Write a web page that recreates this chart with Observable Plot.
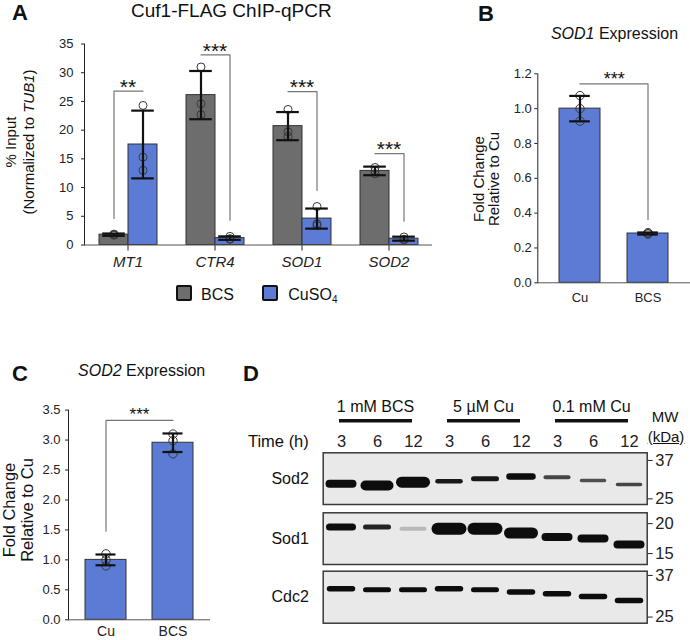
<!DOCTYPE html>
<html><head><meta charset="utf-8">
<script src="https://cdn.jsdelivr.net/npm/d3@7"></script>
<script src="https://cdn.jsdelivr.net/npm/@observablehq/plot@0.6"></script>
<style>
html,body{margin:0;padding:0;background:#fff;}
#fig{position:relative;width:690px;height:640px;overflow:hidden;background:#fff;font-family:"Liberation Sans",Arial,Helvetica,sans-serif;color:#111;}
#fig svg{position:absolute;}
.abs{position:absolute;line-height:1;white-space:nowrap;}
.panel{font-weight:bold;font-size:22px;}
.rot{position:absolute;transform:translate(-50%,-50%) rotate(-90deg);text-align:center;white-space:nowrap;}
.sw{position:absolute;width:12px;height:12px;border:2px solid #111;border-radius:2px;}
</style></head>
<body><div id="fig"></div>
<script>
// ================= DATA =================
// Panel A – Cuf1-FLAG ChIP-qPCR (% input normalized to TUB1)
const genes = ["MT1", "CTR4", "SOD1", "SOD2"];
const conditions = ["BCS", "CuSO4"];
const chipBCSMean = [1.8, 26.1, 20.7, 12.9];
const chipBCSSD = [0.2, 4.2, 2.45, 0.75];
const chipCuMean = [17.5, 1.2, 4.6, 1.1];
const chipCuSD = [5.9, 0.3, 1.75, 0.35];
const chipBCSReps = [[1.9, 1.7, 1.8], [31.0, 24.6, 22.7], [23.6, 19.7, 18.9], [13.5, 12.9, 12.4]];
const chipCuReps = [[24.3, 15.3, 13.0], [1.5, 1.0, 1.1], [6.7, 3.7, 3.4], [1.4, 1.0, 0.9]];
const chipSig = ["**", "***", "***", "***"];
const chipBracketTop = [26.8, 33.1, 26.7, 15.9];
const chipBracketLeg = [4.6, 4.3, 9.5, 4.15];
const chipBracketLegSide = ["BCS", "CuSO4", "CuSO4", "CuSO4"];
const chipYTicks = [0, 5, 10, 15, 20, 25, 30, 35];

// Panels B & C – expression (fold change relative to Cu)
const exprConds = ["Cu", "BCS"];
const sod1Mean = [1.0, 0.283];
const sod1SD = [0.073, 0.006];
const sod1Reps = [[1.075, 1.0, 0.928], [0.288, 0.280, 0.282]];
const sod1BracketTop = 1.142, sod1BracketLeg = 0.363, sod1Sig = "***";
const sod1YTicks = [0, 0.2, 0.4, 0.6, 0.8, 1.0, 1.2];

const sod2Mean = [1.0, 2.955];
const sod2SD = [0.09, 0.155];
const sod2Reps = [[1.1, 1.0, 0.9], [3.1, 2.99, 2.77]];
const sod2BracketTop = 3.327, sod2BracketLeg = 1.479, sod2Sig = "***";
const sod2YTicks = [0, 0.5, 1.0, 1.5, 2.0, 2.5, 3.0, 3.5];

// Panel D – immunoblot
const treatments = ["1 mM BCS", "5 µM Cu", "0.1 mM Cu"];
const hours = ["3", "6", "12"];
const lanes = treatments.flatMap(t => hours.map(h => t + " · " + h));
const sod2BandMW = [29.15, 28.65, 29.63, 29.94, 30.68, 31.41, 31.19, 30.15, 28.94];
const sod2BandSignal = [8, 10, 11, 4.5, 5, 6.5, 4, 3.5, 3.5];
const sod2BandIntensity = [1, 1, 1, 0.95, 0.95, 1, 0.75, 0.7, 0.75];
const sod1BandMW = [19.36, 19.36, 19.06, 19.06, 19.06, 18.28, 17.59, 17.32, 16.35];
const sod1BandSignal = [7, 5, 4, 12, 12, 11, 8, 8, 8];
const sod1BandIntensity = [1, 0.9, 0.22, 1, 1, 1, 1, 1, 1];
const cdc2BandMW = [32.65, 32.35, 32.35, 32.65, 32.35, 31.63, 31.15, 30.37, 29.25];
const cdc2BandSignal = [5.5, 5, 5, 5.5, 5, 5.5, 5.5, 5.5, 5.5];
const cdc2BandIntensity = [1, 1, 1, 1, 1, 1, 1, 1, 1];
const sod2Markers = [25, 37], sod1Markers = [15, 20], cdc2Markers = [25, 37];
const sod2Range = [23.6, 40], sod1Range = [13.5, 22.2], cdc2Range = [23.6, 38.5];

// ================= STYLE =================
const FONT = "'Liberation Sans', Arial, Helvetica, sans-serif";
const GRAY = "#6d6d6d", BLUE = "#5b7bd5";
const fig = document.getElementById("fig");
function put(node, left, top) { node.style.left = left + "px"; node.style.top = top + "px"; fig.appendChild(node); return node; }
function html(cls, inner, left, top, extra) {
  const d = document.createElement("div"); d.className = cls; d.innerHTML = inner;
  if (extra) Object.assign(d.style, extra);
  return put(d, left, top);
}
const baseStyle = (fs) => ({fontFamily: FONT, fontSize: fs, color: "#222", background: "transparent", overflow: "visible"});

// ================= PANEL A =================
const chipRows = genes.flatMap((g, i) => [
  {gene: g, cond: "BCS", mean: chipBCSMean[i], sd: chipBCSSD[i]},
  {gene: g, cond: "CuSO4", mean: chipCuMean[i], sd: chipCuSD[i]}
]);
const chipPts = genes.flatMap((g, i) => [
  ...chipBCSReps[i].map(v => ({gene: g, cond: "BCS", v})),
  ...chipCuReps[i].map(v => ({gene: g, cond: "CuSO4", v}))
]);
const chipBrackets = genes.flatMap((g, i) => {
  const top = chipBracketTop[i], leg = chipBracketLeg[i];
  return chipBracketLegSide[i] === "BCS"
    ? [{gene: g, cond: "BCS", y: leg}, {gene: g, cond: "BCS", y: top}, {gene: g, cond: "CuSO4", y: top}]
    : [{gene: g, cond: "BCS", y: top}, {gene: g, cond: "CuSO4", y: top}, {gene: g, cond: "CuSO4", y: leg}];
});
const chipSigRows = genes.map((g, i) => ({gene: g, text: chipSig[i], y: chipBracketTop[i]}));

const plotA = Plot.plot({
  width: 440, height: 275,
  marginLeft: 82, marginRight: 7, marginTop: 43.5, marginBottom: 30.5,
  style: baseStyle("13px"),
  fx: {domain: genes, padding: 0},
  x: {domain: conditions, paddingInner: 0, paddingOuter: 0.4875, axis: null},
  y: {domain: [0, 35], ticks: chipYTicks, tickSize: 3, tickPadding: 8, label: null, line: true},
  color: {domain: conditions, range: [GRAY, BLUE]},
  marks: [
    Plot.axisFx({anchor: "bottom", tickSize: 6, tickPadding: 5, fontSize: 15, fontStyle: "italic", label: null}),
    Plot.barY(chipRows, {fx: "gene", x: "cond", y: "mean", fill: "cond", stroke: "#333", strokeWidth: 1}),
    Plot.ruleY([0], {stroke: "#555"}),
    Plot.dot(chipPts, {fx: "gene", x: "cond", y: "v", r: 4, stroke: "#3a3a3a", strokeWidth: 1}),
    Plot.ruleX(chipRows, {fx: "gene", x: "cond", y1: d => d.mean - d.sd, y2: d => d.mean + d.sd, stroke: "#111", strokeWidth: 2.2}),
    Plot.tickY(chipRows, {fx: "gene", x: "cond", y: d => d.mean + d.sd, stroke: "#111", strokeWidth: 2.2, insetLeft: 3.2, insetRight: 3.2}),
    Plot.tickY(chipRows, {fx: "gene", x: "cond", y: d => d.mean - d.sd, stroke: "#111", strokeWidth: 2.2, insetLeft: 3.2, insetRight: 3.2}),
    Plot.line(chipBrackets, {fx: "gene", x: "cond", y: "y", z: "gene", stroke: "#777", strokeWidth: 1.2}),
    Plot.text(chipSigRows, {fx: "gene", y: "y", text: "text", lineAnchor: "bottom", dy: 2.7, fontSize: 21, fill: "#111"})
  ]
});
put(plotA, 0, 0);

// ================= PANELS B & C =================
function exprPlot({mean, sd, reps, top, leg, legSide, sig, sigSize, sigDy, yTicks, yMax, opts, xFont, xPad, capInset}) {
  const rows = exprConds.map((c, i) => ({cond: c, mean: mean[i], sd: sd[i]}));
  const pts = exprConds.flatMap((c, i) => reps[i].map(v => ({cond: c, v})));
  const br = legSide === "Cu"
    ? [{cond: "Cu", y: leg}, {cond: "Cu", y: top}, {cond: "BCS", y: top}]
    : [{cond: "Cu", y: top}, {cond: "BCS", y: top}, {cond: "BCS", y: leg}];
  return Plot.plot({
    ...opts,
    style: baseStyle("13px"),
    x: {domain: exprConds, paddingInner: opts.pi, paddingOuter: opts.po, axis: null},
    y: {domain: [0, yMax], ticks: yTicks, tickFormat: ".1f", tickSize: 3, tickPadding: opts.ypad, label: null, line: true},
    marks: [
      Plot.axisX({tickSize: 0, tickPadding: xPad, fontSize: xFont, label: null}),
      Plot.barY(rows, {x: "cond", y: "mean", fill: BLUE, stroke: "#333", strokeWidth: 1}),
      Plot.ruleY([0], {stroke: "#555"}),
      Plot.dot(pts, {x: "cond", y: "v", r: 4.2, stroke: "#3a3a3a", strokeWidth: 1}),
      Plot.ruleX(rows, {x: "cond", y1: d => d.mean - d.sd, y2: d => d.mean + d.sd, stroke: "#111", strokeWidth: 2.2}),
      Plot.tickY(rows, {x: "cond", y: d => d.mean + d.sd, stroke: "#111", strokeWidth: 2.2, insetLeft: capInset, insetRight: capInset}),
      Plot.tickY(rows, {x: "cond", y: d => d.mean - d.sd, stroke: "#111", strokeWidth: 2.2, insetLeft: capInset, insetRight: capInset}),
      Plot.line(br, {x: "cond", y: "y", stroke: "#777", strokeWidth: 1.2}),
      Plot.text([sig], {text: d => d, y: top, lineAnchor: "bottom", dy: sigDy, fontSize: sigSize, fill: "#111"})
    ]
  });
}

const plotB = exprPlot({
  mean: sod1Mean, sd: sod1SD, reps: sod1Reps, top: sod1BracketTop, leg: sod1BracketLeg, legSide: "BCS",
  sig: sod1Sig, sigSize: 18, sigDy: 1.1, yTicks: sod1YTicks, yMax: 1.2, xFont: 13, xPad: 9.5, capInset: 10.2,
  opts: {width: 250, height: 320, marginLeft: 97.3, marginRight: 0, marginTop: 73.3, marginBottom: 37.7, pi: 0.392, po: 0.316, ypad: 3}
});
put(plotB, 440, 0);

const plotC = exprPlot({
  mean: sod2Mean, sd: sod2SD, reps: sod2Reps, top: sod2BracketTop, leg: sod2BracketLeg, legSide: "Cu",
  sig: sod2Sig, sigSize: 17, sigDy: 0, yTicks: sod2YTicks, yMax: 3.5, xFont: 14, xPad: 6.5, capInset: 10.5,
  opts: {width: 240, height: 320, marginLeft: 68, marginRight: 30, marginTop: 89.6, marginBottom: 20.7, pi: 0.395, po: 0.25, ypad: 5}
});
put(plotC, 0, 320);

// ================= PANEL D =================
const header = Plot.plot({
  width: 450, height: 44, marginLeft: 82.7, marginRight: 43.3, marginTop: 39, marginBottom: 1.5,
  style: baseStyle("16px"),
  x: {domain: treatments, padding: 0, axis: null},
  marks: [
    Plot.cell(treatments, {x: d => d, fill: "#111", insetLeft: 16, insetRight: 19}),
    Plot.text(treatments, {x: d => d, text: d => d, frameAnchor: "top", lineAnchor: "bottom", dy: -7.5, dx: -2, fontSize: 16, fill: "#111"})
  ]
});
put(header, 240, 380);

function blot({name, mw, signal, intensity, markers, range, height, marginTop, marginBottom, withHeader}) {
  const bands = lanes.map((lane, i) => ({lane, mw: mw[i], w: signal[i], a: intensity[i]}));
  return Plot.plot({
    width: 450, height, marginLeft: 82.7, marginRight: 43.3, marginTop, marginBottom,
    style: baseStyle("16.5px"),
    x: {domain: lanes, padding: 0, axis: withHeader ? "top" : null, tickSize: 0, tickPadding: 6.3,
        tickFormat: d => d.split(" · ")[1], label: null},
    y: {type: "log", domain: range, ticks: markers, tickFormat: d => String(d), axis: "right",
        tickSize: 5, tickPadding: 3, label: null},
    marks: [
      Plot.frame({fill: "#e9e9e9", stroke: "#3a3a3a", strokeWidth: 1.5}),
      Plot.tickY(bands, {x: "lane", y: "mw", strokeWidth: "w", strokeOpacity: "a", stroke: "#0d0d0d",
        strokeLinecap: "round", insetLeft: 6.5, insetRight: 6.5}),
      Plot.text([name], {text: d => d, frameAnchor: "left", dx: -14.4, textAnchor: "end", fontSize: 16, fill: "#111"}),
      withHeader ? Plot.text(["Time (h)"], {text: d => d, frameAnchor: "top-left", dx: -14.4, dy: -6.3,
        textAnchor: "end", lineAnchor: "bottom", fontSize: 16.5, fill: "#111"}) : null
    ]
  });
}
put(blot({name: "Sod2", mw: sod2BandMW, signal: sod2BandSignal, intensity: sod2BandIntensity,
  markers: sod2Markers, range: sod2Range, height: 83, marginTop: 27.3, marginBottom: 4, withHeader: true}), 240, 425);
put(blot({name: "Sod1", mw: sod1BandMW, signal: sod1BandSignal, intensity: sod1BandIntensity,
  markers: sod1Markers, range: sod1Range, height: 60, marginTop: 4.3, marginBottom: 4}), 240, 508);
put(blot({name: "Cdc2", mw: cdc2BandMW, signal: cdc2BandSignal, intensity: cdc2BandIntensity,
  markers: cdc2Markers, range: cdc2Range, height: 62, marginTop: 4.7, marginBottom: 5.3}), 240, 566);

// ================= TEXT (titles, labels, legend) =================
html("abs panel", "A", 12, 2);
html("abs panel", "B", 478, 3);
html("abs panel", "C", 12, 363);
html("abs panel", "D", 243, 363);
html("abs", "Cuf1-FLAG ChIP-qPCR", 131, 1.2, {width: "200px", textAlign: "center", fontSize: "19px"});
html("abs", "<i>SOD1</i> Expression", 544.5, 25.8, {width: "140px", textAlign: "center", fontSize: "16px"});
html("abs", "<i>SOD2</i> Expression", 71.7, 363.2, {width: "140px", textAlign: "center", fontSize: "16px"});
html("rot", "% Input<br>(Normalized to <i>TUB1</i>)", 20, 142, {fontSize: "15px", lineHeight: "18px"});
html("rot", "Fold Change<br>Relative to Cu", 485.5, 179, {fontSize: "15px", lineHeight: "15px"});
html("rot", "Fold Change<br>Relative to Cu", 17.75, 510, {fontSize: "16.5px", lineHeight: "17.5px"});
// legend A
html("sw", "", 176, 285, {background: GRAY});
html("abs", "BCS", 201, 287.2, {fontSize: "16px"});
html("sw", "", 262.3, 285, {background: BLUE});
html("abs", "CuSO<sub style='font-size:10px;vertical-align:-3px'>4</sub>", 288.3, 287.2, {fontSize: "16px"});
// MW
html("abs", "MW", 640, 409, {width: "50px", textAlign: "center", fontSize: "15px"});
html("abs", "<u>(kDa)</u>", 640, 429, {width: "52px", textAlign: "center", fontSize: "15px"});
</script></body></html>
